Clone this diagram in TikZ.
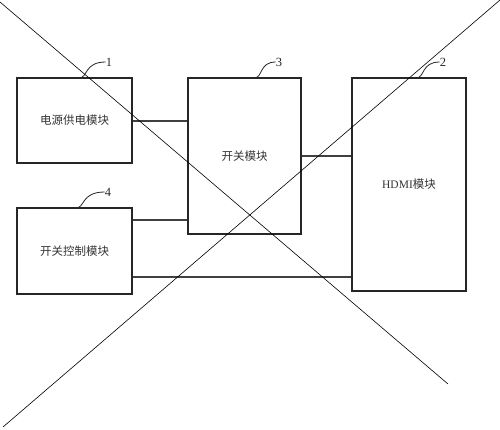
\documentclass[tikz,border=0pt]{standalone}
\usepackage{fontspec}
\setmainfont{Liberation Serif}
\newfontfamily\cjk{Noto Sans CJK SC}
\begin{document}
\begin{tikzpicture}[x=1pt,y=-1pt,
  box/.style={draw=black!85, line width=1.1pt, inner sep=0pt, font=\cjk\fontsize{11.5}{13}\selectfont, text=black!80},
  link/.style={draw=black!75, line width=1.4pt},
  leader/.style={draw=black!85, line width=0.8pt},
  num/.style={font=\fontsize{12.5}{14}\selectfont, text=black!85, inner sep=0pt},
  cross/.style={draw=black, line width=0.6pt}]
\useasboundingbox (0,0) rectangle (500,429);
% boxes
\node[box, minimum width=115pt, minimum height=85pt] (b1) at (74.5,120.5) {电源供电模块};
\node[box, minimum width=113pt, minimum height=156pt] (b3) at (244.5,156) {开关模块};
\node[box, minimum width=114pt, minimum height=213pt] (b2) at (409,184.5) {\fontspec{Liberation Serif}HDMI\cjk 模块};
\node[box, minimum width=115pt, minimum height=86pt] (b4) at (74.5,251) {开关控制模块};
% connectors
\coordinate (c1) at ([yshift=-0.5pt]b1.east);
\draw[link] (c1) -- (c1 -| b3.west);
\draw[link] (b3.east) -- (b3.east -| b2.west);
\coordinate (c4a) at ([yshift=31pt]b4.east);
\coordinate (c4b) at ([yshift=-26pt]b4.east);
\draw[link] (c4a) -- (c4a -| b3.west);
\draw[link] (c4b) -- (c4b -| b2.west);
% leaders and numbers
\node[num] (n1) at (109,62) {1};
\node[num] (n3) at (279,62) {3};
\node[num] (n2) at (443,62) {2};
\node[num] (n4) at (108,192) {4};
\coordinate (t1) at (79,78);
\coordinate (t3) at (254,78);
\coordinate (t2) at (416,78);
\coordinate (t4) at (76,208);
\draw[leader] (t1) .. controls (88,78) and (84,62) .. (n1.west);
\draw[leader] (t3) .. controls (263,78) and (259,62) .. (n3.west);
\draw[leader] (t2) .. controls (425,78) and (421,62) .. (n2.west);
\draw[leader] (t4) .. controls (85,208) and (81,192) .. (n4.west);
% cross
\coordinate (x1) at (0,2);
\coordinate (x2) at (448,384);
\coordinate (x3) at (3,427);
\coordinate (x4) at (500,0);
\draw[cross] (x1) -- (x2);
\draw[cross] (x3) -- (x4);
\end{tikzpicture}
\end{document}
